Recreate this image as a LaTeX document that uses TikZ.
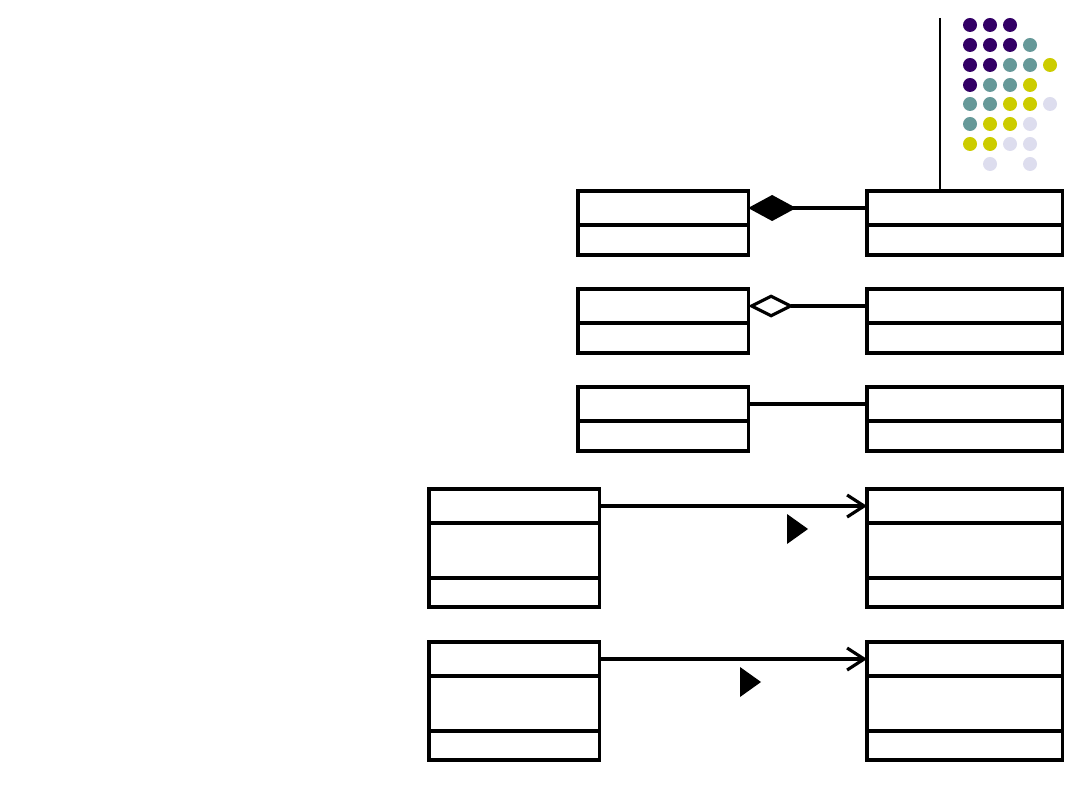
\documentclass[tikz,border=0pt]{standalone}
\usepackage{tikz}
\usetikzlibrary{arrows.meta,positioning}
\definecolor{dotpurple}{HTML}{330066}
\definecolor{dotteal}{HTML}{669999}
\definecolor{dotyellow}{HTML}{CCCC00}
\definecolor{dotlilac}{HTML}{DDDDEE}

\begin{document}
\begin{tikzpicture}[x=0.01cm, y=-0.01cm,
  compart/.style={rectangle, draw=black, line width=0.9pt, inner sep=0pt, outer sep=0pt, anchor=north west},
  narrow/.style={compart, minimum width=1.7cm},
  wide/.style={compart, minimum width=1.95cm},
  composite/.style={line width=0.9pt, {Diamond[length=0.48cm, width=0.26cm]}-},
  aggregate/.style={line width=0.9pt, {Diamond[open, length=0.46cm, width=0.23cm]}-},
  assoc/.style={line width=0.9pt},
  navig/.style={line width=0.9pt, -{Straight Barb[length=0.17cm, width=0.22cm]}},
  dotmark/.style={circle, fill=#1, inner sep=0pt, minimum size=0.14cm}
]
  \useasboundingbox (0,0) rectangle (1080,810);

  % Logo dots (top right)
  \draw[line width=0.3pt] (940,18) coordinate (rulea) -- (940,190) coordinate (ruleb);
  \foreach \cx/\cy/\col in {970/25/dotpurple, 990/25/dotpurple, 1010/25/dotpurple,
      970/45/dotpurple, 990/45/dotpurple, 1010/45/dotpurple, 1030/45/dotteal,
      970/65/dotpurple, 990/65/dotpurple, 1010/65/dotteal, 1030/65/dotteal, 1050/65/dotyellow,
      970/85/dotpurple, 990/85/dotteal, 1010/85/dotteal, 1030/85/dotyellow,
      970/104/dotteal, 990/104/dotteal, 1010/104/dotyellow, 1030/104/dotyellow, 1050/104/dotlilac,
      970/124/dotteal, 990/124/dotyellow, 1010/124/dotyellow, 1030/124/dotlilac,
      970/144/dotyellow, 990/144/dotyellow, 1010/144/dotlilac, 1030/144/dotlilac,
      990/164/dotlilac, 1030/164/dotlilac}
    \node[dotmark=\col] at (\cx,\cy) {};

  % Composition
  \node[narrow, minimum height=0.34cm] (whole) at (578,191) {};
  \node[narrow, minimum height=0.30cm, below=0pt of whole] (wholeb) {};
  \node[wide, minimum height=0.34cm] (part) at (867,191) {};
  \node[wide, minimum height=0.30cm, below=0pt of part] (partb) {};
  \draw[composite] (whole) -- (part);

  % Aggregation
  \node[narrow, minimum height=0.34cm] (group) at (578,289) {};
  \node[narrow, minimum height=0.30cm, below=0pt of group] (groupb) {};
  \node[wide, minimum height=0.34cm] (member) at (867,289) {};
  \node[wide, minimum height=0.30cm, below=0pt of member] (memberb) {};
  \draw[aggregate] (group) -- (member);

  % Plain association
  \node[narrow, minimum height=0.34cm] (left) at (578,387) {};
  \node[narrow, minimum height=0.30cm, below=0pt of left] (leftb) {};
  \node[wide, minimum height=0.34cm] (right) at (867,387) {};
  \node[wide, minimum height=0.30cm, below=0pt of right] (rightb) {};
  \draw[assoc] (left) -- (right);

  % Navigable association 1
  \node[narrow, minimum height=0.34cm] (srca) at (429,489) {};
  \node[narrow, minimum height=0.55cm, below=0pt of srca] (srcaat) {};
  \node[narrow, minimum height=0.29cm, below=0pt of srcaat] (srcaop) {};
  \node[wide, minimum height=0.34cm] (dsta) at (867,489) {};
  \node[wide, minimum height=0.55cm, below=0pt of dsta] (dstaat) {};
  \node[wide, minimum height=0.29cm, below=0pt of dstaat] (dstaop) {};
  \draw[navig] (srca) -- (dsta);
  \fill (787,514) -- (808,529) -- (787,544) -- cycle;

  % Navigable association 2
  \node[narrow, minimum height=0.34cm] (srcb) at (429,642) {};
  \node[narrow, minimum height=0.55cm, below=0pt of srcb] (srcbat) {};
  \node[narrow, minimum height=0.29cm, below=0pt of srcbat] (srcbop) {};
  \node[wide, minimum height=0.34cm] (dstb) at (867,642) {};
  \node[wide, minimum height=0.55cm, below=0pt of dstb] (dstbat) {};
  \node[wide, minimum height=0.29cm, below=0pt of dstbat] (dstbop) {};
  \draw[navig] (srcb) -- (dstb);
  \fill (740,667) -- (761,682) -- (740,697) -- cycle;
\end{tikzpicture}
\end{document}
